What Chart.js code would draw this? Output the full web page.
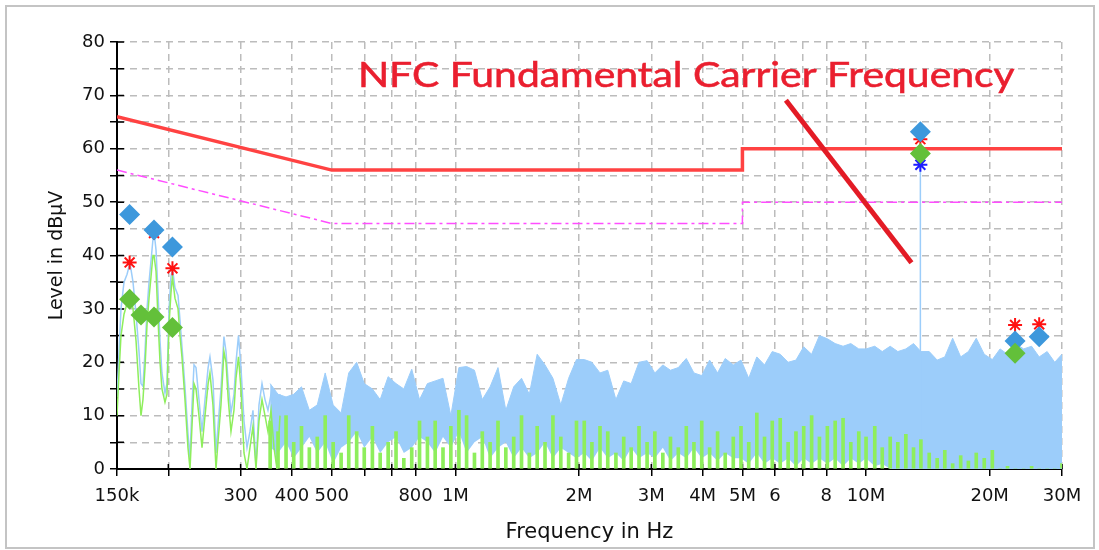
<!DOCTYPE html>
<html>
<head>
<meta charset="utf-8">
<title>Conducted emission scan</title>
<script src="https://cdn.jsdelivr.net/npm/chart.js@4.4.1/dist/chart.umd.min.js"></script>
<style>
  html, body { margin: 0; padding: 0; background: #fff; }
  #wrap { position: relative; width: 1099px; height: 550px; }
  #frame { position: absolute; left: 5px; top: 5px; width: 1086px; height: 540px; border: 2px solid #c4c4c4; pointer-events: none; }
  canvas { position: absolute; left: 0; top: 0; }
</style>
</head>
<body>
<div id="wrap">
  <canvas id="chart" width="1099" height="550"></canvas>
  <div id="frame"></div>
</div>
<script>
// --- Axes (frequency in MHz, level in dBµV) ---
const xTickValues = [0.15, 0.2, 0.3, 0.4, 0.5, 0.6, 0.7, 0.8, 1, 2, 3, 4, 5, 6, 7, 8, 10, 20, 30];
const xTickLabels = ['150k', '', '300', '400', '500', '', '', '800', '1M', '2M', '3M', '4M', '5M', '6', '', '8', '10M', '20M', '30M'];

// --- Limit lines ---
const qpLimitF = [0.15, 0.5, 5, 5, 30];
const qpLimitL = [66, 56, 56, 60, 60];
const avLimitF = [0.15, 0.5, 5, 5, 30];
const avLimitL = [56, 46, 46, 50, 50];

// --- Scan traces below ~370 kHz (peak + average) ---
const lowF = [0.150, 0.1517, 0.1534, 0.1560, 0.1587, 0.1613, 0.1641, 0.1669, 0.1697, 0.1716,
  0.1735, 0.1755, 0.1775, 0.1795, 0.1815, 0.1835, 0.1846, 0.1867, 0.1888, 0.1909,
  0.1930, 0.1963, 0.1985, 0.2008, 0.2030, 0.2047, 0.2076, 0.2112, 0.2135, 0.2159,
  0.2196, 0.2233, 0.2259, 0.2284, 0.2310, 0.2336, 0.2375, 0.2416, 0.2457, 0.2500,
  0.2526, 0.2569, 0.2613, 0.2642, 0.2687, 0.2732, 0.2764, 0.2799, 0.2842, 0.2890,
  0.2923, 0.2964, 0.3006, 0.3057, 0.3109, 0.3161, 0.3215, 0.3270, 0.3325, 0.3382,
  0.3439, 0.3497, 0.3557, 0.3617, 0.3678, 0.3741];
const peakLowL = [13.5, 22, 30, 35, 36.5, 38.6, 35, 29, 22, 16,
  15.5, 22, 30, 35, 39, 43, 44.5, 41, 33, 24,
  18, 14.2, 16, 30, 36, 37.6, 34, 32.5, 28, 23,
  15.4, 6.7, 2, 12, 19.5, 19, 13, 7, 13, 19,
  21, 16.7, 3, 8, 15, 24.8, 22, 16, 10.5, 14,
  20, 25, 19, 9, 4, 7, 11, 0.5, 12, 16,
  13, 11, 14, 8, 0.5, 14];
const avgLowL = [10, 18, 25, 29, 31, 33, 30, 24, 15, 10,
  13, 19, 27, 32, 36, 40, 40, 37, 28, 20,
  15, 12.5, 14, 27, 33, 36, 32, 30, 25, 21,
  13, 4, 0, 8, 16, 15, 10, 4, 10, 16,
  18, 12, 0, 5, 12, 22, 20, 13, 7, 11,
  17, 21, 15, 3, 0, 4, 8, 0, 9, 13,
  10, 7, 11, 4, 0, 10];

// --- Scan traces above ~350 kHz: peak band (top / floor) and average spikes ---
const scanF = [0.354, 0.37, 0.387, 0.404, 0.422, 0.441, 0.461, 0.482, 0.504, 0.527,
  0.55, 0.575, 0.6, 0.628, 0.656, 0.686, 0.717, 0.749, 0.783, 0.818,
  0.855, 0.893, 0.933, 0.975, 1.02, 1.065, 1.113, 1.163, 1.215, 1.27,
  1.327, 1.387, 1.449, 1.514, 1.582, 1.653, 1.728, 1.806, 1.887, 1.972,
  2.06, 2.15, 2.25, 2.35, 2.46, 2.57, 2.68, 2.8, 2.93, 3.06,
  3.2, 3.34, 3.49, 3.65, 3.81, 3.98, 4.16, 4.35, 4.54, 4.75,
  4.96, 5.18, 5.42, 5.66, 5.91, 6.18, 6.46, 6.75, 7.05, 7.37,
  7.7, 8.05, 8.41, 8.79, 9.18, 9.6, 10.0, 10.5, 10.95, 11.45,
  11.95, 12.5, 13.05, 13.6, 14.25, 14.9, 15.55, 16.25, 17.0, 17.75,
  18.55, 19.4, 20.3, 21.2, 22.1, 23.1, 24.2, 25.3, 26.4, 27.6,
  28.8, 30.0];
const peakTop = [16, 14, 13.5, 14, 15.4, 11, 12, 18, 12, 10.5,
  18, 20, 16, 15, 13, 17.3, 16, 15, 18.7, 13,
  16, 16.5, 17, 10, 19, 19.2, 18.5, 13, 15.4, 19,
  11, 15.4, 17, 14, 21.5, 19.5, 17, 12, 17, 20.5,
  20.5, 20, 18, 18.5, 13, 16.5, 16, 20, 20.3, 18,
  19.5, 18.5, 19, 20.7, 18, 17.5, 20.4, 18, 20.7, 19.5,
  20.4, 17, 21, 19.5, 22, 21.5, 20, 20.4, 22.9, 21.5,
  25, 24.4, 23.5, 23, 23.5, 22.5, 22.5, 23, 22, 23,
  22, 22.5, 23.5, 22, 22, 20.4, 21, 24.5, 21, 22,
  24.5, 21.5, 20.5, 22.5, 21.5, 23.5, 22.5, 23, 21, 22,
  20, 21.5];
const peakFloor = [4, 3, 5, 2, 4, 6, 3, 5, 1, 4,
  5, 7, 4, 6, 3, 5, 6, 3, 4, 6,
  5, 3, 6, 4, 7, 3, 5, 6, 2, 4,
  5, 2, 4, 2, 3, 5, 2, 4, 3, 2,
  3, 1.5, 4, 2, 3, 1.5, 4, 2, 3, 2,
  4, 1.5, 3, 2, 4, 2, 3, 1.5, 3, 2,
  2, 1, 3, 1, 2, 1, 2, 0.5, 2, 1,
  2, 1, 2, 0.5, 2, 1, 2, 0.5, 1, 0,
  0, 0, 0, 0, 0, 0, 0, 0, 0, 0,
  0, 0, 0, 0, 0, 0, 0, 0, 0, 0,
  0, 0];
const avgSpikes = [9, 7, 10, 5, 8, 4, 6, 10, 5, 3,
  10, 7, 4, 8, 3, 5, 7, 2, 4, 9,
  6, 9, 4, 8, 11, 10, 3, 7, 5, 9,
  4, 6, 10, 3, 8, 5, 10, 6, 3, 9,
  9, 5, 8, 7, 3, 6, 4, 8, 5, 7,
  3, 6, 4, 8, 5, 9, 4, 7, 3, 6,
  8, 5, 10.5, 6, 9, 9.5, 5, 7, 8, 10,
  6, 8, 9, 9.5, 5, 7, 6, 8, 4, 6,
  5, 6.5, 4, 5.5, 3, 2, 3.5, 1, 2.5, 1.5,
  3, 2, 3.5, 0, 0.5, 0, 0, 0.5, 0, 0,
  0, 1];

// --- NFC carrier spike ---
const carrierF = [13.56, 13.56];
const carrierL = [0, 57];

// --- Final measurement markers ---
const qpFinalF = [0.161, 0.1846, 0.2047, 13.56, 23.06, 26.4];
const qpFinalL = [47.7, 44.8, 41.6, 63.2, 24.0, 24.8];
const avFinalF = [0.161, 0.1716, 0.1846, 0.2047, 13.56, 23.06];
const avFinalL = [31.8, 28.85, 28.5, 26.5, 59.1, 21.7];
const peakMarkF = [0.161, 0.1846, 0.2047, 13.56, 23.06, 26.4];
const peakMarkL = [38.7, 44.2, 37.6, 61.8, 27.0, 27.1];
const carrierMarkF = [13.56];
const carrierMarkL = [57.0];

// --- Annotation ---
const noteText = 'NFC Fundamental Carrier Frequency';
const noteF = [0.579, 23.0];
const noteLevel = 71.6;
const arrowF = [6.38, 12.9];
const arrowL = [69.1, 38.65];

const pts = (xs, ys) => xs.map((x, i) => ({ x: x, y: ys[i] }));

const BLUE = '#9ccdfa';
const GREEN = '#8eee5c';
const FONT = 'DejaVu Sans';

// Tick marks on the inner side of both axes
const innerTicks = {
    id: 'innerTicks',
    beforeDatasetsDraw(chart) {
        const { ctx, chartArea: a, scales: { x, y } } = chart;
        ctx.save();
        ctx.strokeStyle = '#000';
        ctx.lineWidth = 1.5;
        ctx.beginPath();
        x.ticks.forEach(t => {
            const px = x.getPixelForValue(t.value);
            ctx.moveTo(px, a.bottom);
            ctx.lineTo(px, a.bottom - 5);
        });
        y.ticks.forEach(t => {
            const py = y.getPixelForValue(t.value);
            ctx.moveTo(a.left, py);
            ctx.lineTo(a.left + 7, py);
        });
        ctx.stroke();
        ctx.restore();
    }
};

// Red annotation text, placed in data coordinates
const nfcNote = {
    id: 'nfcNote',
    afterDatasetsDraw(chart) {
        const { ctx, scales: { x, y } } = chart;
        const left = x.getPixelForValue(noteF[0]);
        const right = x.getPixelForValue(noteF[1]);
        const base = y.getPixelForValue(noteLevel);
        ctx.save();
        ctx.font = '35px Lato';
        const w = ctx.measureText(noteText).width;
        ctx.translate(left, base);
        ctx.scale((right - left) / w, 1);
        ctx.fillStyle = '#ea1f2f';
        ctx.strokeStyle = '#ea1f2f';
        ctx.lineWidth = 0.6;
        ctx.textBaseline = 'alphabetic';
        ctx.fillText(noteText, 0, 0);
        ctx.strokeText(noteText, 0, 0);
        ctx.restore();
    }
};

const datasets = [
    { label: 'AV final', data: pts(avFinalF, avFinalL), showLine: false, pointStyle: 'rectRot',
      pointRadius: 10.5, backgroundColor: '#63c03a', borderColor: '#63c03a', borderWidth: 0, order: 1 },
    { label: 'Carrier mark', data: pts(carrierMarkF, carrierMarkL), showLine: false, pointStyle: 'star',
      pointRadius: 7, borderColor: '#1c1cff', borderWidth: 2, order: 2 },
    { label: 'QP final', data: pts(qpFinalF, qpFinalL), showLine: false, pointStyle: 'rectRot',
      pointRadius: 10.5, backgroundColor: '#3d98dc', borderColor: '#3d98dc', borderWidth: 0, order: 3 },
    { label: 'Peak marks', data: pts(peakMarkF, peakMarkL), showLine: false, pointStyle: 'star',
      pointRadius: 7, borderColor: '#ff1010', borderWidth: 2, order: 4 },
    { label: 'NFC arrow', data: pts(arrowF, arrowL), borderColor: '#e31b25', borderWidth: 5,
      pointRadius: 0, order: 5 },
    { label: 'QP limit', data: pts(qpLimitF, qpLimitL), borderColor: '#ff4242', borderWidth: 3.5,
      pointRadius: 0, order: 6 },
    { label: 'AV limit', data: pts(avLimitF, avLimitL), borderColor: '#ff4dff', borderWidth: 1.5,
      borderDash: [10, 4, 3, 4], pointRadius: 0, order: 7 },
    { label: 'Average scan', type: 'bar', data: pts(scanF, avgSpikes), backgroundColor: GREEN,
      borderWidth: 0, barThickness: 3, order: 8 },
    { label: 'Average scan low', data: pts(lowF, avgLowL), borderColor: GREEN, borderWidth: 1.5,
      pointRadius: 0, order: 9 },
    { label: 'Carrier', data: pts(carrierF, carrierL), borderColor: BLUE, borderWidth: 1.5,
      pointRadius: 0, order: 10 },
    { label: 'Peak scan low', data: pts(lowF, peakLowL), borderColor: BLUE, borderWidth: 1.5,
      pointRadius: 0, order: 11 },
    { label: 'Peak scan floor', data: pts(scanF, peakFloor), borderWidth: 0, pointRadius: 0,
      fill: false, order: 12 },
    { label: 'Peak scan', data: pts(scanF, peakTop), borderColor: BLUE, borderWidth: 1,
      backgroundColor: BLUE, fill: '-1', pointRadius: 0, order: 12 }
];

const gridOpts = { offset: false, color: '#bcbcbc', lineWidth: 1.5, tickColor: '#000', tickLength: 7, tickWidth: 1.5 };

new Chart(document.getElementById('chart'), {
    type: 'line',
    data: { datasets: datasets },
    options: {
        responsive: false,
        animation: false,
        devicePixelRatio: 1,
        layout: { padding: { left: 0, right: 37, top: 42, bottom: 0 } },
        plugins: { legend: { display: false }, tooltip: { enabled: false } },
        scales: {
            x: {
                type: 'logarithmic',
                min: 0.15,
                max: 30,
                offset: false,
                afterBuildTicks: s => { s.ticks = xTickValues.map(v => ({ value: v })); },
                afterFit: s => { s.height = 81; },
                grid: gridOpts,
                border: { display: true, color: '#000', width: 2, dash: [7, 5] },
                ticks: {
                    autoSkip: false, maxRotation: 0, padding: 10, color: '#111',
                    font: { family: FONT, size: 18 },
                    callback: (v, i) => xTickLabels[i]
                },
                title: {
                    display: true, text: 'Frequency in Hz', color: '#111',
                    font: { family: FONT, size: 21 }, padding: { top: 0, bottom: 5 }
                }
            },
            y: {
                min: 0,
                max: 80,
                afterFit: s => { s.width = 117; },
                grid: gridOpts,
                border: { display: true, color: '#000', width: 2, dash: [7, 5] },
                ticks: {
                    stepSize: 5, autoSkip: false, padding: 5, color: '#111',
                    font: { family: FONT, size: 18 },
                    callback: v => (v % 10 === 0 ? String(v) : '')
                },
                title: {
                    display: true, text: 'Level in dBµV', color: '#111',
                    font: { family: FONT, size: 19 }, padding: { top: 46, bottom: 0 }
                }
            }
        }
    },
    plugins: [innerTicks, nfcNote]
});
</script>
</body>
</html>
